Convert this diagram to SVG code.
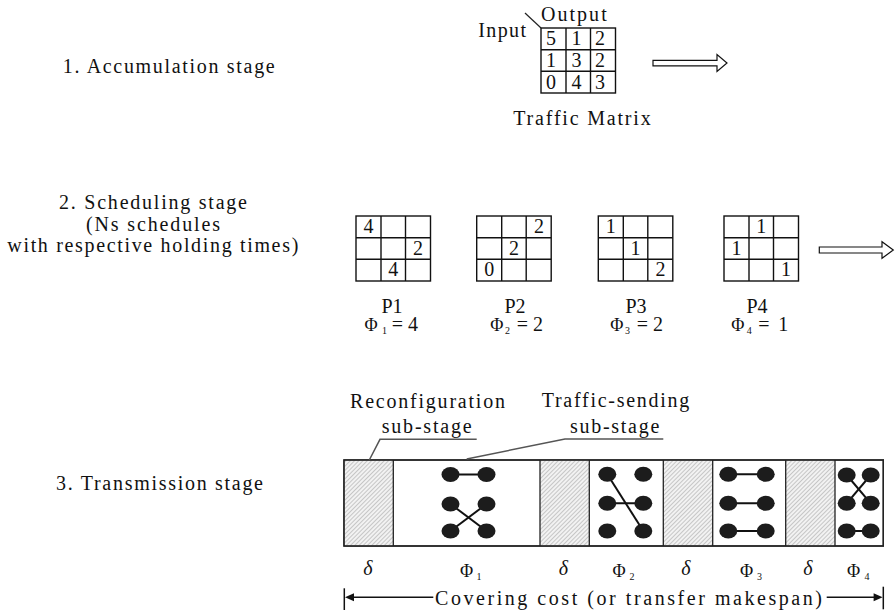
<svg xmlns="http://www.w3.org/2000/svg" xmlns:xlink="http://www.w3.org/1999/xlink" width="895" height="612" viewBox="0 0 895 612">
<defs>
<style>
.t{font-family:"Liberation Serif","Times New Roman",serif;font-size:20px;fill:#111;}
.d{font-family:"Liberation Serif","Times New Roman",serif;font-size:20px;fill:#111;text-anchor:middle;}
.phi{font-family:"Liberation Serif","Times New Roman",serif;font-size:18px;fill:#111;}
.phib{font-family:"Liberation Serif","Times New Roman",serif;font-size:18px;fill:#111;}
.sub{font-family:"Liberation Serif","Times New Roman",serif;font-size:10px;fill:#111;}
.del{font-family:"Liberation Serif","Times New Roman",serif;font-size:20px;font-style:italic;fill:#111;text-anchor:middle;}
.gl{fill:none;stroke:#111;stroke-width:1.4;}
.box{fill:#fff;stroke:#222;stroke-width:1.4;}
.div{stroke:#222;stroke-width:1.3;}
.hat{fill:url(#hatch);stroke:none;}
.dot{fill:#1c1c1c;}
.link{stroke:#111;stroke-width:2;}
.lead{stroke:#555;stroke-width:1.5;fill:none;}
.hollow{fill:#fff;stroke:#111;stroke-width:1.2;}
.ar{stroke:#111;stroke-width:1.5;fill:none;}
</style>
<pattern id="hatch" width="3" height="3" patternUnits="userSpaceOnUse" patternTransform="rotate(45)">
<rect width="3" height="3" fill="#f2f2f2"/>
<line x1="0" y1="0" x2="0" y2="3" stroke="#909090" stroke-width="0.9"/>
</pattern>
<g id="grid">
<rect class="gl" x="0" y="0" width="74.5" height="65"/>
<line class="gl" x1="25" y1="0" x2="25" y2="65"/>
<line class="gl" x1="49.5" y1="0" x2="49.5" y2="65"/>
<line class="gl" x1="0" y1="21.7" x2="74.5" y2="21.7"/>
<line class="gl" x1="0" y1="43.3" x2="74.5" y2="43.3"/>
</g>
</defs>
<rect width="895" height="612" fill="#fff"/>

<!-- Stage labels -->
<g id="label-stage1">
<text class="t" x="62.7" y="73" textLength="212" lengthAdjust="spacing">1. Accumulation stage</text>
</g>
<g id="label-stage2">
<text class="t" x="59" y="209" textLength="188" lengthAdjust="spacing">2. Scheduling stage</text>
<text class="t" x="86" y="230.7" textLength="134" lengthAdjust="spacing">(Ns schedules</text>
<text class="t" x="7.3" y="252.3" textLength="291" lengthAdjust="spacing">with respective holding times)</text>
</g>
<g id="label-stage3">
<text class="t" x="56" y="490" textLength="207" lengthAdjust="spacing">3. Transmission stage</text>
</g>

<!-- Traffic matrix -->
<g id="traffic-matrix">
<text class="t" x="478.3" y="37" textLength="47.7" lengthAdjust="spacing">Input</text>
<text class="t" x="541" y="21" textLength="65.7" lengthAdjust="spacing">Output</text>
<line x1="525" y1="13" x2="541" y2="28" stroke="#222" stroke-width="1.2"/>
<use xlink:href="#grid" href="#grid" x="541" y="28"/>
<text class="d" x="551" y="45">5</text>
<text class="d" x="576.5" y="45">1</text>
<text class="d" x="600" y="45">2</text>
<text class="d" x="551" y="67">1</text>
<text class="d" x="576.5" y="67">3</text>
<text class="d" x="600" y="67">2</text>
<text class="d" x="551" y="88.5">0</text>
<text class="d" x="576.5" y="88.5">4</text>
<text class="d" x="600" y="88.5">3</text>
<text class="t" x="513.3" y="125" textLength="137.4" lengthAdjust="spacing">Traffic Matrix</text>
</g>

<!-- Schedules -->
<g id="schedule-p1">
<use xlink:href="#grid" href="#grid" x="356" y="216"/>
<text class="d" x="368.5" y="233.3">4</text>
<text class="d" x="418" y="255">2</text>
<text class="d" x="393.3" y="276">4</text>
<text class="d" x="392" y="312.7">P1</text>
<text class="phi" x="364.5" y="331">Φ</text>
<text class="sub" x="382" y="334">1</text>
<text class="t" x="391.7" y="331">= 4</text>
</g>
<g id="schedule-p2">
<use xlink:href="#grid" href="#grid" x="476.7" y="216"/>
<text class="d" x="538.9" y="233.3">2</text>
<text class="d" x="514" y="255">2</text>
<text class="d" x="489.2" y="276">0</text>
<text class="d" x="515" y="312.7">P2</text>
<text class="phi" x="490.2" y="331">Φ</text>
<text class="sub" x="505" y="334">2</text>
<text class="t" x="516.7" y="331">= 2</text>
</g>
<g id="schedule-p3">
<use xlink:href="#grid" href="#grid" x="598.3" y="216"/>
<text class="d" x="610.8" y="233.3">1</text>
<text class="d" x="635.5" y="255">1</text>
<text class="d" x="660.5" y="276">2</text>
<text class="d" x="636" y="312.7">P3</text>
<text class="phi" x="610.2" y="331">Φ</text>
<text class="sub" x="625" y="334">3</text>
<text class="t" x="636.7" y="331">= 2</text>
</g>
<g id="schedule-p4">
<use xlink:href="#grid" href="#grid" x="724" y="216"/>
<text class="d" x="761.2" y="233.3">1</text>
<text class="d" x="736.5" y="255">1</text>
<text class="d" x="786" y="276">1</text>
<text class="d" x="757" y="312.7">P4</text>
<text class="phi" x="731.2" y="331">Φ</text>
<text class="sub" x="746.7" y="334">4</text>
<text class="t" x="758.3" y="331" textLength="30" lengthAdjust="spacing">=1</text>
</g>

<!-- Transmission timeline -->
<g id="transmission">
<rect class="box" x="344" y="460" width="539.3" height="86"/>
<rect class="hat" x="344.7" y="460.7" width="48.6" height="84.6"/>
<rect class="hat" x="540" y="460.7" width="49.3" height="84.6"/>
<rect class="hat" x="663.3" y="460.7" width="49.4" height="84.6"/>
<rect class="hat" x="785.7" y="460.7" width="49.3" height="84.6"/>
<line class="div" x1="393.3" y1="460" x2="393.3" y2="546"/>
<line class="div" x1="540" y1="460" x2="540" y2="546"/>
<line class="div" x1="589.3" y1="460" x2="589.3" y2="546"/>
<line class="div" x1="663.3" y1="460" x2="663.3" y2="546"/>
<line class="div" x1="712.7" y1="460" x2="712.7" y2="546"/>
<line class="div" x1="785.7" y1="460" x2="785.7" y2="546"/>
<line class="div" x1="835" y1="460" x2="835" y2="546"/>
<rect x="344" y="460" width="539.3" height="86" fill="none" stroke="#222" stroke-width="1.4"/>
</g>
<g id="config-1">
<line class="link" x1="450.5" y1="474.5" x2="486.5" y2="474.5"/>
<line class="link" x1="450.5" y1="504" x2="486.5" y2="531"/>
<line class="link" x1="450.5" y1="531" x2="486.5" y2="504"/>
<ellipse class="dot" cx="450.5" cy="474.5" rx="9" ry="7.5"/>
<ellipse class="dot" cx="486.5" cy="474.5" rx="9" ry="7.5"/>
<ellipse class="dot" cx="450.5" cy="504" rx="9" ry="7.5"/>
<ellipse class="dot" cx="486.5" cy="504" rx="9" ry="7.5"/>
<ellipse class="dot" cx="450.5" cy="531" rx="9" ry="7.5"/>
<ellipse class="dot" cx="486.5" cy="531" rx="9" ry="7.5"/>
</g>
<g id="config-2">
<line class="link" x1="607.3" y1="474.3" x2="643.3" y2="531"/>
<line class="link" x1="607.3" y1="503.3" x2="643.3" y2="503.3"/>
<ellipse class="dot" cx="607.3" cy="474.3" rx="9" ry="7.5"/>
<ellipse class="dot" cx="643.3" cy="474.3" rx="9" ry="7.5"/>
<ellipse class="dot" cx="607.3" cy="503.3" rx="9" ry="7.5"/>
<ellipse class="dot" cx="643.3" cy="503.3" rx="9" ry="7.5"/>
<ellipse class="dot" cx="607.3" cy="531" rx="9" ry="7.5"/>
<ellipse class="dot" cx="643.3" cy="531" rx="9" ry="7.5"/>
</g>
<g id="config-3">
<line class="link" x1="728.3" y1="474.3" x2="765.7" y2="474.3"/>
<line class="link" x1="728.3" y1="503.3" x2="765.7" y2="503.3"/>
<line class="link" x1="728.3" y1="531" x2="765.7" y2="531"/>
<ellipse class="dot" cx="728.3" cy="474.3" rx="9" ry="7.5"/>
<ellipse class="dot" cx="765.7" cy="474.3" rx="9" ry="7.5"/>
<ellipse class="dot" cx="728.3" cy="503.3" rx="9" ry="7.5"/>
<ellipse class="dot" cx="765.7" cy="503.3" rx="9" ry="7.5"/>
<ellipse class="dot" cx="728.3" cy="531" rx="9" ry="7.5"/>
<ellipse class="dot" cx="765.7" cy="531" rx="9" ry="7.5"/>
</g>
<g id="config-4">
<line class="link" x1="846.7" y1="475" x2="870.7" y2="503.3"/>
<line class="link" x1="846.7" y1="503.3" x2="870.7" y2="475"/>
<line class="link" x1="846.7" y1="531" x2="870.7" y2="531"/>
<ellipse class="dot" cx="846.7" cy="475" rx="9" ry="7.5"/>
<ellipse class="dot" cx="870.7" cy="475" rx="9" ry="7.5"/>
<ellipse class="dot" cx="846.7" cy="503.3" rx="9" ry="7.5"/>
<ellipse class="dot" cx="870.7" cy="503.3" rx="9" ry="7.5"/>
<ellipse class="dot" cx="846.7" cy="531" rx="9" ry="7.5"/>
<ellipse class="dot" cx="870.7" cy="531" rx="9" ry="7.5"/>
</g>

<g id="label-reconfig">
<text class="t" x="350" y="408" textLength="155" lengthAdjust="spacing">Reconfiguration</text>
<text class="t" x="381.7" y="432.7" textLength="90" lengthAdjust="spacing">sub-stage</text>
</g>
<g id="label-sending">
<text class="t" x="541.7" y="407.3" textLength="147.6" lengthAdjust="spacing">Traffic-sending</text>
<text class="t" x="570" y="432.7" textLength="89.3" lengthAdjust="spacing">sub-stage</text>
</g>

<g id="time-labels">
<text class="del" x="368" y="574.5">δ</text>
<text class="del" x="563.5" y="574.5">δ</text>
<text class="del" x="686" y="574.5">δ</text>
<text class="del" x="808" y="574.5">δ</text>
<text class="phib" x="460" y="576.5">Φ</text><text class="sub" x="476.5" y="580">1</text>
<text class="phib" x="612.5" y="576.5">Φ</text><text class="sub" x="629.5" y="580">2</text>
<text class="phib" x="740" y="576.5">Φ</text><text class="sub" x="757" y="580">3</text>
<text class="phib" x="847" y="576.5">Φ</text><text class="sub" x="864.5" y="580">4</text>
</g>

<g id="label-covering">
<text class="t" x="435" y="604.5" textLength="387" lengthAdjust="spacing">Covering cost (or transfer makespan)</text>
</g>

<!-- Connectors -->
<g id="connectors">
<path class="hollow" d="M653,60.3 H717 V54.5 L727,63 L717,71.5 V65.8 H653 Z"/>
<path class="hollow" d="M819.3,247 H882 V241.7 L893.3,250 L882,258.3 V253 H819.3 Z"/>
<polyline class="lead" points="476.7,439.3 380,439.3 369.3,460"/>
<polyline class="lead" points="663.3,439 565,439 466.7,459"/>
<line class="ar" x1="344.3" y1="588.3" x2="344.3" y2="610"/>
<line class="ar" x1="352" y1="597.3" x2="433.3" y2="597.3"/>
<polygon points="345,597.3 354,593.3 354,601.3" fill="#111"/>
<line class="ar" x1="883.3" y1="586.7" x2="883.3" y2="609.3"/>
<line class="ar" x1="826.7" y1="597.3" x2="875" y2="597.3"/>
<polygon points="882.6,597.3 873.6,593.3 873.6,601.3" fill="#111"/>
</g>
</svg>
